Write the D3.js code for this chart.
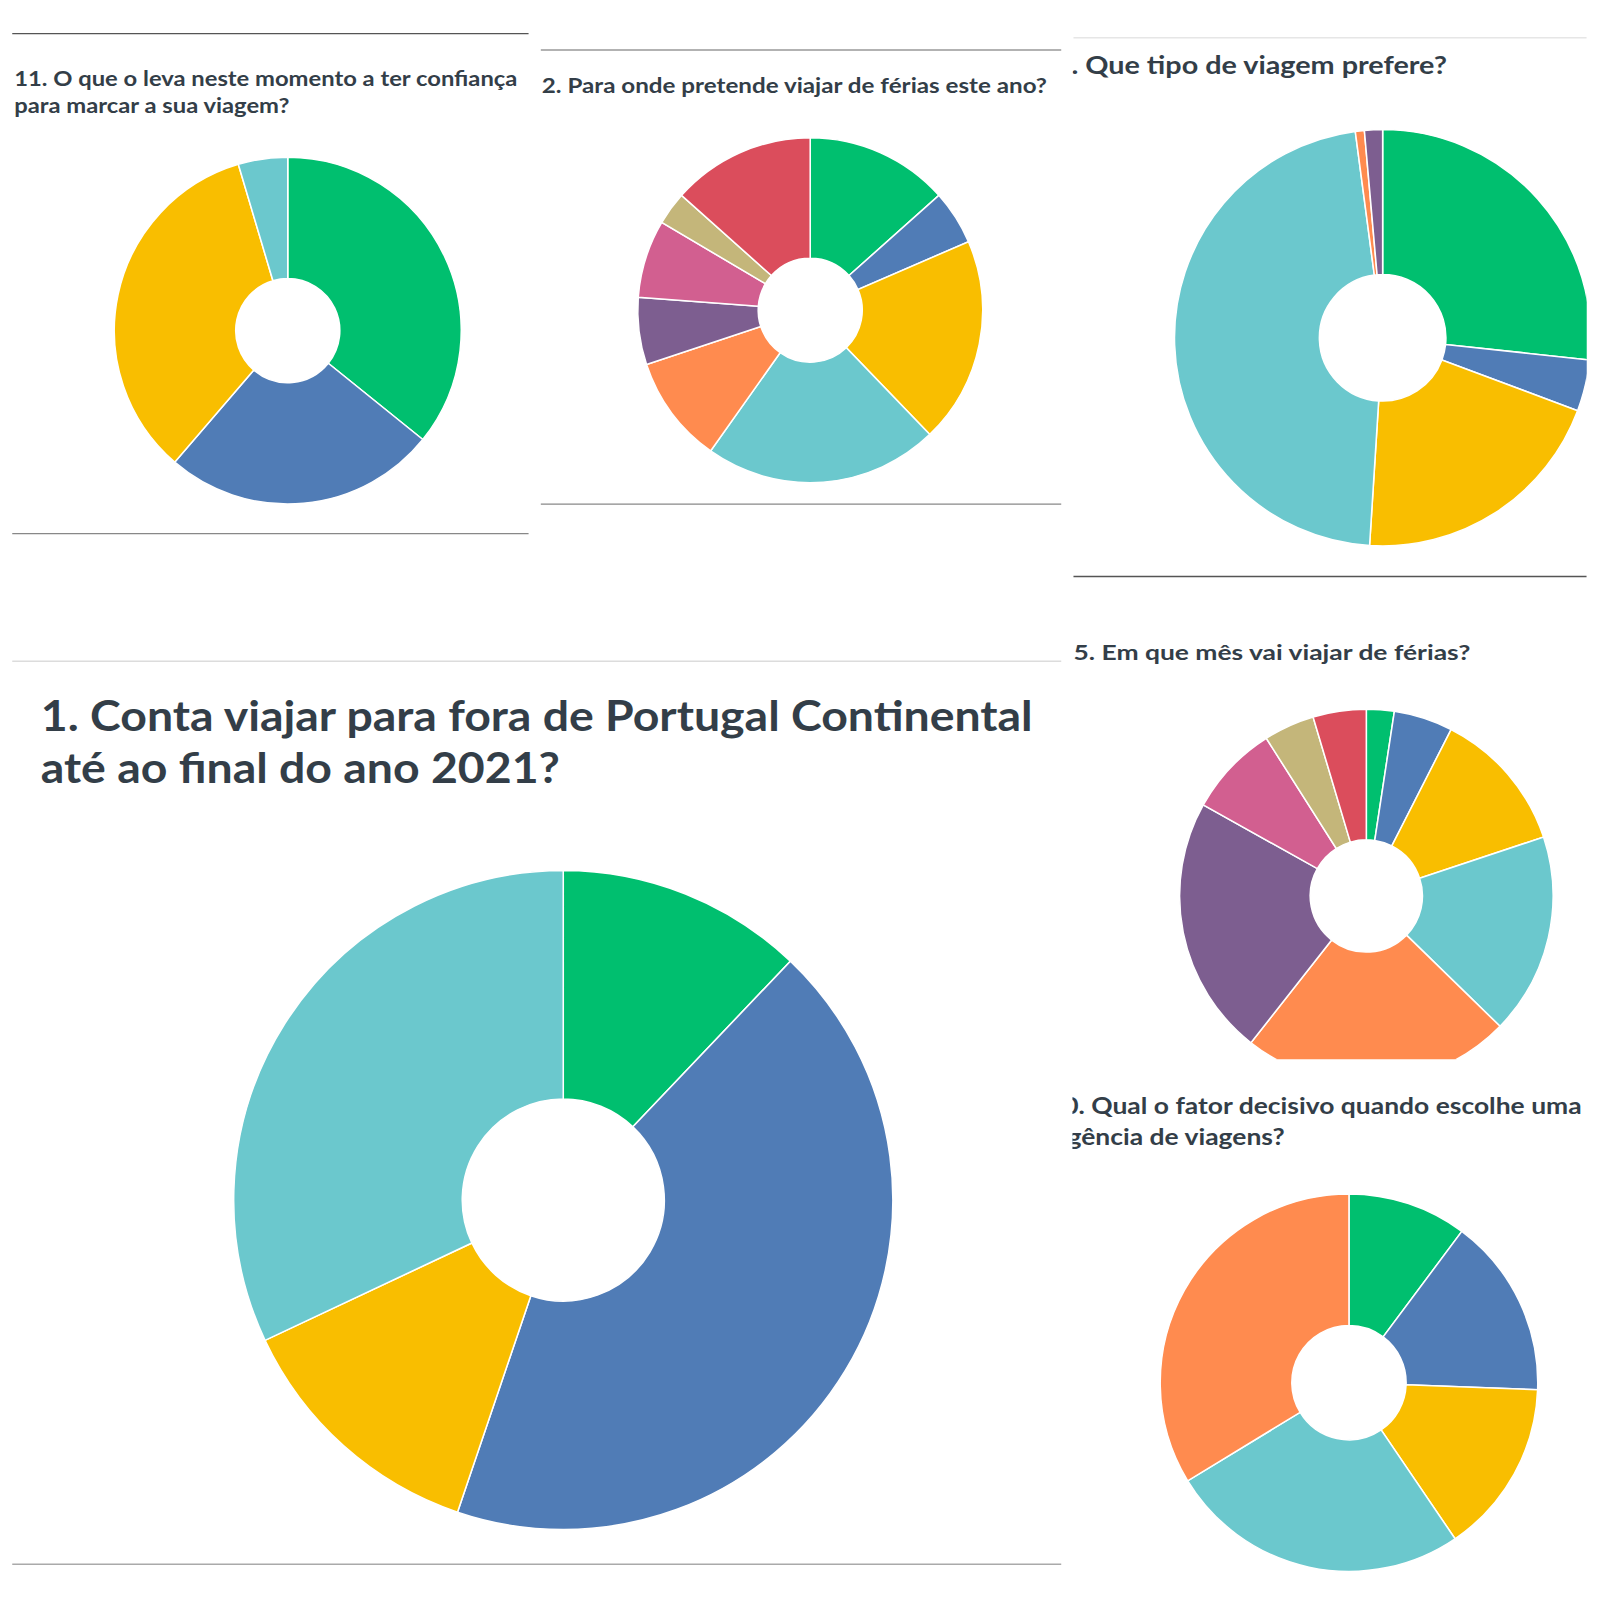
<!DOCTYPE html>
<html>
<head>
<meta charset="utf-8">
<script src="https://cdn.jsdelivr.net/npm/d3@7"></script>
<style>
  body { margin: 0; background: #fff; }
  text { font-family: Lato, "Open Sans", sans-serif; font-weight: 700; fill: #333e48; }
</style>
</head>
<body>
<div class="vis"></div>
<script>
// answer shares (%) per question, clockwise from 12 o'clock
const q11Values = [35.8, 25.5, 34.1, 4.6];
const q12Values = [13.4, 5.1, 19.3, 22.0, 10.1, 6.3, 7.3, 3.1, 13.4];
const q13Values = [26.7, 4.0, 20.3, 46.9, 0.7, 1.4];
const q1Values = [12.1, 43.1, 12.8, 32.0];
const q15Values = [2.4, 5.1, 12.4, 17.4, 23.3, 22.5, 7.9, 4.4, 4.6];
const q10Values = [10.2, 15.4, 14.9, 25.8, 33.7];

const q11Title = ["11. O que o leva neste momento a ter confiança", "para marcar a sua viagem?"];
const q12Title = ["2. Para onde pretende viajar de férias este ano?"];
const q13Title = ["13. Que tipo de viagem prefere?"];
const q1Title = ["1. Conta viajar para fora de Portugal Continental", "até ao final do ano 2021?"];
const q15Title = ["5. Em que mês vai viajar de férias?"];
const q10Title = ["10. Qual o fator decisivo quando escolhe uma", "agência de viagens?"];

const palette = ["#00bf6f", "#507cb6", "#f9be00", "#6bc8cd", "#ff8b4f",
                 "#7d5e90", "#d25f90", "#c4b67a", "#db4d5c"];

const W = 1600, H = 1600;
const svg = d3.select(".vis").append("svg")
  .attr("width", W).attr("height", H);

// layout was measured on a 1568px copy of the picture
const root = svg.append("g").attr("transform", `scale(${1600 / 1568})`);

const defs = svg.append("defs");
defs.append("clipPath").attr("id", "rightCol")
  .append("rect").attr("x", 1051).attr("y", 0).attr("width", 504).attr("height", 1600);
defs.append("clipPath").attr("id", "q15clip")
  .append("rect").attr("x", 1051).attr("y", 600).attr("width", 504).attr("height", 438);

const color = d3.scaleOrdinal().domain(d3.range(palette.length)).range(palette);
const pie = d3.pie().sort(null).value((d) => d);

function donut(g, values, cx, cy, R, r) {
  const arc = d3.arc().innerRadius(r).outerRadius(R);
  g.append("g")
    .attr("transform", `translate(${cx},${cy})`)
    .selectAll("path")
    .data(pie(values))
    .enter()
    .append("path")
    .attr("d", arc)
    .attr("fill", (d, i) => color(i))
    .attr("stroke", "#fff")
    .attr("stroke-width", 1.5);
}

// first line: chars after `skip` fill x0..x1; other lines share the squeeze
function title(g, lines, opts) {
  const t = g.append("text").attr("y", opts.y[0]).attr("font-size", opts.size).text(lines[0]);
  const w = t.node().getComputedTextLength();
  const p = opts.skip ? t.node().getSubStringLength(0, opts.skip) : 0;
  const k = (opts.x1 - opts.x0) / (w - p);
  t.attr("x", opts.x0 - p * k).attr("textLength", w * k).attr("lengthAdjust", "spacingAndGlyphs");
  for (let i = 1; i < lines.length; i++) {
    const t2 = g.append("text").attr("y", opts.y[i]).attr("font-size", opts.size).text(lines[i]);
    const w2 = t2.node().getComputedTextLength();
    const x = opts.end2 ? opts.end2 - w2 * k : opts.x0 - p * k;
    t2.attr("x", x).attr("textLength", w2 * k).attr("lengthAdjust", "spacingAndGlyphs");
  }
}

function rule(g, x0, x1, y, stroke) {
  g.append("line")
    .attr("x1", x0).attr("x2", x1).attr("y1", y).attr("y2", y)
    .attr("stroke", stroke).attr("stroke-width", 1.3);
}

// 11 - top left
const p1 = root.append("g");
rule(p1, 12, 518, 33, "#555");
title(p1, q11Title, { x0: 14, x1: 507, y: [84, 111], size: 20.5 });
donut(p1, q11Values, 282, 324, 170, 51);
rule(p1, 12, 518, 523, "#888");

// 12 - top middle
const p2 = root.append("g");
rule(p2, 530, 1040, 49, "#999");
title(p2, q12Title, { x0: 531, x1: 1026, y: [91], size: 20 });
donut(p2, q12Values, 794, 304, 169, 51);
rule(p2, 530, 1040, 494, "#888");

// right column, cut at its left and right edge
const right = root.append("g").attr("clip-path", "url(#rightCol)");

// 13 - top right
rule(right, 1052, 1555, 37, "#e6e6e6");
title(right, q13Title, { x0: 1050, x1: 1418, skip: 2, y: [73], size: 25 });
donut(right, q13Values, 1355, 331, 204, 62);
rule(right, 1052, 1555, 565, "#555");

// 15 - right middle
title(right, q15Title, { x0: 1052, x1: 1441, y: [647], size: 20 });
donut(right.append("g").attr("clip-path", "url(#q15clip)"), q15Values, 1339, 878, 183, 55);

// 10 - bottom right
title(right, q10Title, { x0: 1057, x1: 1550, skip: 2, end2: 1259, y: [1092, 1122], size: 21.5 });
donut(right, q10Values, 1322, 1355, 185, 56);

// 1 - big one
const p4 = root.append("g");
rule(p4, 12, 1040, 648, "#dcdcdc");
title(p4, q1Title, { x0: 40, x1: 1012, y: [716, 767], size: 41 });
donut(p4, q1Values, 552, 1176, 323, 99);
rule(p4, 12, 1040, 1533, "#aaa");
</script>
</body>
</html>
